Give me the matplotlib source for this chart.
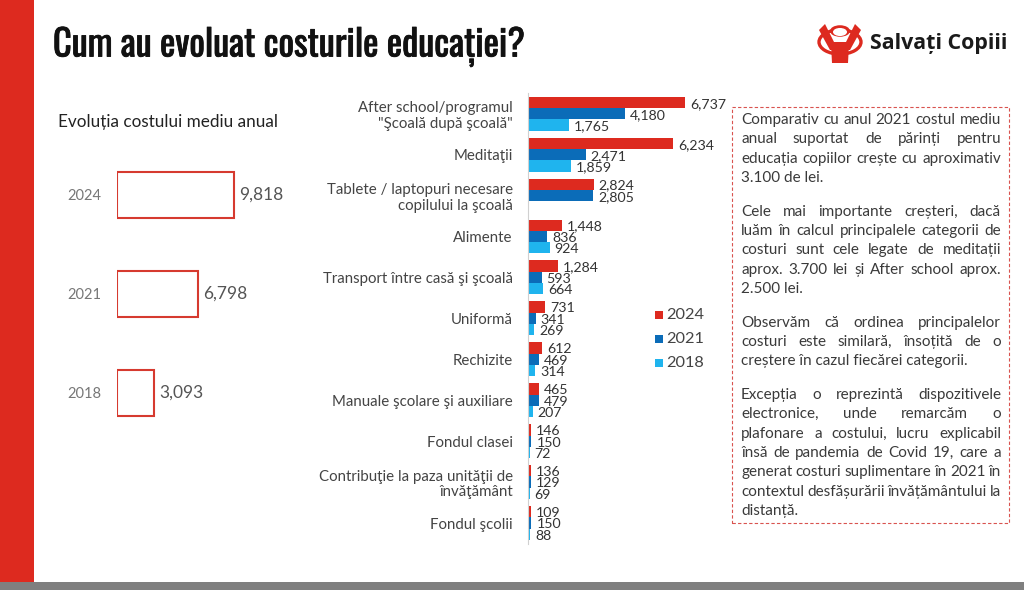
import numpy as np
import matplotlib
matplotlib.use("Agg")
import matplotlib.pyplot as plt
from matplotlib import font_manager
from matplotlib import patheffects
from matplotlib.patches import Rectangle, Circle, Polygon

W, H = 1024, 590

# ---- data
avg_years = ["2024", "2021", "2018"]
avg_cost = [9818, 6798, 3093]

categories = [
    "After school/programul\n\"Şcoală după şcoală\"",
    "Meditaţii",
    "Tablete / laptopuri necesare\ncopilului la şcoală",
    "Alimente",
    "Transport între casă şi şcoală",
    "Uniformă",
    "Rechizite",
    "Manuale şcolare şi auxiliare",
    "Fondul clasei",
    "Contribuţie la paza unităţii de\nînvăţământ",
    "Fondul şcolii",
]
series_years = ["2024", "2021", "2018"]
cost_2024 = [6737, 6234, 2824, 1448, 1284, 731, 612, 465, 146, 136, 109]
cost_2021 = [4180, 2471, 2805, 836, 593, 341, 469, 479, 150, 129, 150]
cost_2018 = [1765, 1859, np.nan, 924, 664, 269, 314, 207, 72, 69, 88]

paragraphs = [
    ["Comparativ cu anul 2021 costul mediu",
     "anual suportat de părinți pentru",
     "educația copiilor crește cu aproximativ",
     "3.100 de lei."],
    ["Cele mai importante creșteri, dacă",
     "luăm în calcul principalele categorii de",
     "costuri sunt cele legate de meditații",
     "aprox. 3.700 lei și After school aprox.",
     "2.500 lei."],
    ["Observăm că ordinea principalelor",
     "costuri este similară, însoțită de o",
     "creștere în cazul fiecărei categorii."],
    ["Excepția o reprezintă dispozitivele",
     "electronice, unde remarcăm o",
     "plafonare a costului, lucru explicabil",
     "însă de pandemia de Covid 19, care a",
     "generat costuri suplimentare în 2021 în",
     "contextul desfășurării învățământului la",
     "distanță."],
]

RED = "#dd2a1f"
BLUE = "#0b6cb8"
LIGHT = "#1fb4ee"
colors = [RED, BLUE, LIGHT]

installed = {f.name for f in font_manager.fontManager.ttflist}
BODY = ["Lato", "DejaVu Sans"]
title_font = dict(family="DejaVu Sans", fontstretch="condensed")
for cand in ["Oswald", "Roboto Condensed", "Liberation Sans Narrow",
             "Open Sans Condensed", "DejaVu Sans Condensed"]:
    if cand in installed:
        title_font = dict(family=cand)
        break
plt.rcParams["font.family"] = BODY


def fx(x):
    return x / W


def fy(y):
    return 1 - y / H


def axes_px(x0, y0, x1, y1):
    return fig.add_axes([fx(x0), fy(y1), (x1 - x0) / W, (y1 - y0) / H])


fig = plt.figure(figsize=(W / 100, H / 100), dpi=100)
fig.patch.set_facecolor("white")
renderer = fig.canvas.get_renderer()

# ---- slide frame
fig.add_artist(Rectangle((0, fy(582)), fx(34), 582 / H, transform=fig.transFigure,
                         facecolor=RED, edgecolor="none"))
fig.add_artist(Rectangle((0, 0), 1, 8 / H, transform=fig.transFigure,
                         facecolor="#7f7f7f", edgecolor="none"))

# title, scaled to the reference width; a thin stroke thickens the condensed face
title = fig.text(fx(53), fy(47), "Cum au evoluat costurile educației?", weight="bold",
                 fontsize=30, color="#111111", va="center", ha="left", **title_font)
tw = title.get_window_extent(renderer).width
title.set_fontsize(30 * 471 / tw)
title.set_path_effects([patheffects.withStroke(linewidth=0.6, foreground="#111111")])

# logo
cx, cy, r = 840, 42, 21
fig.add_artist(Circle((fx(cx), fy(cy)), r / W, transform=fig.transFigure,
                      facecolor="none", edgecolor=RED, lw=2.4))
fig.add_artist(Polygon([(fx(831), fy(44)), (fx(849), fy(44)), (fx(848), fy(63)),
                        (fx(832), fy(63))], closed=True, transform=fig.transFigure,
                       facecolor=RED, edgecolor="none"))
fig.add_artist(Polygon([(fx(819), fy(30)), (fx(825), fy(24)), (fx(834), fy(42)),
                        (fx(846), fy(42)), (fx(855), fy(24)), (fx(861), fy(30)),
                        (fx(850), fy(50)), (fx(830), fy(50))], closed=True,
                       transform=fig.transFigure, facecolor=RED, edgecolor="none"))
fig.add_artist(Circle((fx(840), fy(31)), 10 / W, transform=fig.transFigure,
                      facecolor=RED, edgecolor="none"))
fig.add_artist(Circle((fx(840), fy(32)), 7 / W, transform=fig.transFigure,
                      facecolor="white", edgecolor="none"))
fig.text(fx(870), fy(44), "Salvați Copiii", family=["Open Sans", "DejaVu Sans"],
         weight="bold", fontsize=15.4, color="#1a1a1a", va="center", ha="left")

# ---- left panel: average annual cost
fig.text(fx(58), fy(122), "Evoluția costului mediu anual", fontsize=12.3,
         color="#222222", va="center", ha="left")
axl = axes_px(117, 145.5, 300, 442)
yl = np.arange(len(avg_years))
axl.barh(yl, avg_cost, height=0.466, facecolor="white", edgecolor="#d63a2f", lw=1.5)
for y, v in zip(yl, avg_cost):
    axl.annotate(f"{v:,}", (v, y), xytext=(4, 0), textcoords="offset points",
                 va="center", ha="left", fontsize=12.5, color="#555555")
axl.set_xlim(0, 183 / 0.01192)
axl.set_ylim(len(avg_years) - 0.5, -0.5)
axl.set_yticks(yl, avg_years, fontsize=10.5, color="#777777")
axl.tick_params(axis="y", length=0, pad=11)
axl.set_xticks([])
for s in axl.spines.values():
    s.set_visible(False)

# ---- middle chart: costs by category
axm = axes_px(528, 93.2, 720, 543.5)
yc = np.arange(len(categories))
bh = 0.276
for k, (vals, col) in enumerate(zip([cost_2024, cost_2021, cost_2018], colors)):
    pos = yc + (k - 1) * bh
    axm.barh(pos, vals, height=bh, color=col, edgecolor="none")
    for y, v in zip(pos, vals):
        if not np.isnan(v):
            axm.annotate(f"{v:,.0f}", (v, y), xytext=(3.5, -1.0),
                         textcoords="offset points", va="center", ha="left",
                         fontsize=10.2, color="#333333")
axm.set_xlim(0, 192 / 0.0233)
axm.set_ylim(len(categories) - 0.5, -0.5)
axm.set_yticks(yc, categories, fontsize=10.8, color="#444444", linespacing=1.15)
axm.tick_params(axis="y", length=0, pad=11)
axm.set_xticks([])
for name, s in axm.spines.items():
    s.set_visible(name == "left")
axm.spines["left"].set_color("#d0d0d0")
axm.spines["left"].set_linewidth(0.8)
axm.patch.set_alpha(0)

# legend
for k, (lab, col) in enumerate(zip(series_years, colors)):
    y = 315 + 24 * k
    fig.add_artist(Rectangle((fx(655), fy(y + 3.5)), 7.5 / W, 7.5 / H,
                             transform=fig.transFigure, facecolor=col, edgecolor="none"))
    fig.text(fx(666), fy(y), lab, fontsize=11.8, color="#444444", va="center", ha="left")

# ---- right text box (justified)
fig.add_artist(Rectangle((fx(732), fy(523)), (1009 - 732) / W, (523 - 107) / H,
                         transform=fig.transFigure, facecolor="none", edgecolor="#d9534f",
                         lw=0.8, linestyle=(0, (3, 2))))
x0, x1 = 741, 1001
fs = 11.0
y = 120
for para in paragraphs:
    for i, line in enumerate(para):
        if i == len(para) - 1:
            fig.text(fx(x0), fy(y), line, fontsize=fs, color="#3a3a3a", va="center", ha="left")
        else:
            words = line.split()
            texts = [fig.text(0, fy(y), w, fontsize=fs, color="#3a3a3a", va="center",
                              ha="left") for w in words]
            widths = [t.get_window_extent(renderer).width for t in texts]
            gap = max((x1 - x0 - sum(widths)) / (len(words) - 1), 3.0)
            xp = x0
            for t, wd in zip(texts, widths):
                t.set_x(fx(xp))
                xp += wd + gap
        y += 19.4
    y += 14

fig.savefig("out.png", dpi=100)
